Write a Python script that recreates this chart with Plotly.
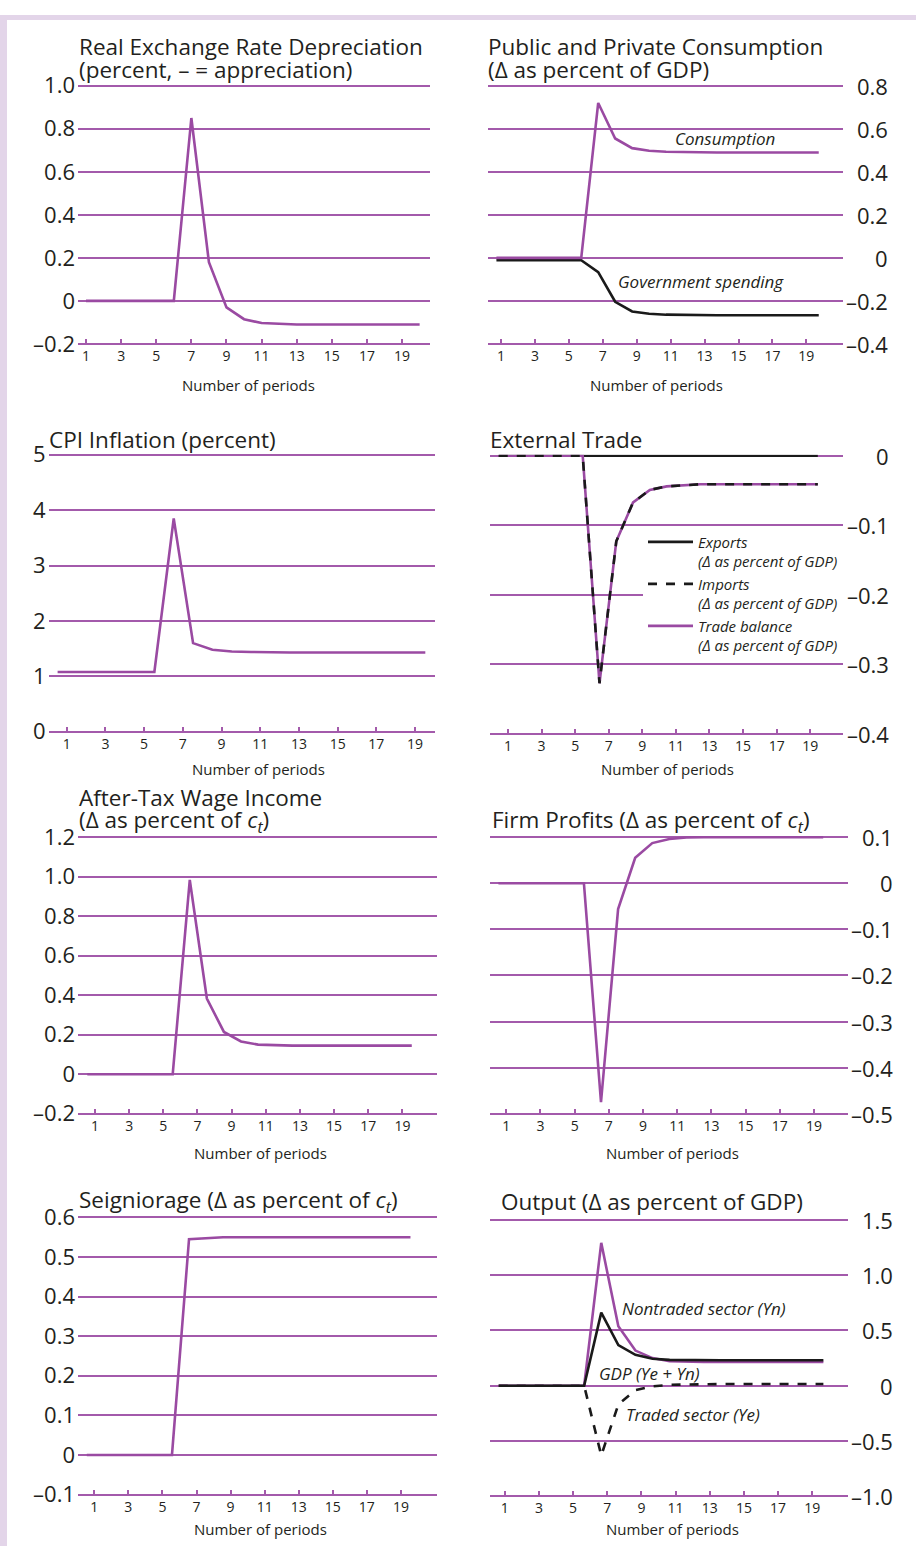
import plotly.graph_objects as go

W, H = 916, 1559

# ---------------- data ----------------
periods = list(range(1, 21))
x_ticks = list(range(1, 20, 2))
x_tick_text = [str(v) for v in x_ticks]

rer = [0, 0, 0, 0, 0, 0, 0.85, 0.18, -0.03, -0.085, -0.103, -0.108, -0.11, -0.11,
       -0.11, -0.11, -0.11, -0.11, -0.11, -0.11]

consumption = [0, 0, 0, 0, 0, 0, 0.72, 0.555, 0.51, 0.498, 0.493, 0.491, 0.49, 0.49,
               0.49, 0.49, 0.49, 0.49, 0.49, 0.49]
government = [-0.011, -0.011, -0.011, -0.011, -0.011, -0.011, -0.066, -0.204, -0.249,
              -0.26, -0.264, -0.266, -0.267, -0.267, -0.267, -0.267, -0.267, -0.267,
              -0.267, -0.267]

cpi = [1.08, 1.08, 1.08, 1.08, 1.08, 1.08, 3.85, 1.6, 1.48, 1.45, 1.44, 1.43, 1.43,
       1.43, 1.43, 1.43, 1.43, 1.43, 1.43, 1.43]

exports = [0] * 20
imports = [0, 0, 0, 0, 0, 0, -0.327, -0.123, -0.067, -0.049, -0.044, -0.042, -0.041,
           -0.041, -0.041, -0.041, -0.041, -0.041, -0.041, -0.041]
trade_balance = [0, 0, 0, 0, 0, 0, -0.327, -0.123, -0.067, -0.049, -0.044, -0.042,
                 -0.041, -0.041, -0.041, -0.041, -0.041, -0.041, -0.041, -0.041]

wage = [0, 0, 0, 0, 0, 0, 0.983, 0.383, 0.214, 0.166, 0.15, 0.146, 0.145, 0.145,
        0.145, 0.145, 0.145, 0.145, 0.145, 0.145]

profits = [0, 0, 0, 0, 0, 0, -0.475, -0.056, 0.055, 0.087, 0.096, 0.099, 0.1, 0.1,
           0.1, 0.1, 0.1, 0.1, 0.1, 0.1]

seigniorage = [0, 0, 0, 0, 0, 0, 0.545, 0.548, 0.55, 0.55, 0.55, 0.55, 0.55, 0.55,
               0.55, 0.55, 0.55, 0.55, 0.55, 0.55]

nontraded = [0, 0, 0, 0, 0, 0, 1.294, 0.538, 0.318, 0.25, 0.222, 0.216, 0.215, 0.215,
             0.215, 0.215, 0.215, 0.215, 0.215, 0.215]
gdp = [0, 0, 0, 0, 0, 0, 0.662, 0.368, 0.28, 0.244, 0.234, 0.231, 0.23, 0.23, 0.23,
       0.23, 0.23, 0.23, 0.23, 0.23]
traded = [0, 0, 0, 0, 0, 0, -0.632, -0.17, -0.04, -0.006, 0.008, 0.012, 0.014, 0.015,
          0.015, 0.015, 0.015, 0.015, 0.015, 0.015]

y1_ticks = [-0.2, 0, 0.2, 0.4, 0.6, 0.8, 1.0]
y1_text = ["\u20130.2", "0", "0.2", "0.4", "0.6", "0.8", "1.0"]
y2_ticks = [-0.4, -0.2, 0, 0.2, 0.4, 0.6, 0.8]
y2_text = ["\u20130.4", "\u20130.2", "0", "0.2", "0.4", "0.6", "0.8"]
y3_ticks = [0, 1, 2, 3, 4, 5]
y3_text = ["0", "1", "2", "3", "4", "5"]
y4_ticks = [-0.4, -0.3, -0.2, -0.1, 0]
y4_text = ["\u20130.4", "\u20130.3", "\u20130.2", "\u20130.1", "0"]
y5_ticks = [-0.2, 0, 0.2, 0.4, 0.6, 0.8, 1.0, 1.2]
y5_text = ["\u20130.2", "0", "0.2", "0.4", "0.6", "0.8", "1.0", "1.2"]
y6_ticks = [-0.5, -0.4, -0.3, -0.2, -0.1, 0, 0.1]
y6_text = ["\u20130.5", "\u20130.4", "\u20130.3", "\u20130.2", "\u20130.1", "0", "0.1"]
y7_ticks = [-0.1, 0, 0.1, 0.2, 0.3, 0.4, 0.5, 0.6]
y7_text = ["\u20130.1", "0", "0.1", "0.2", "0.3", "0.4", "0.5", "0.6"]
y8_ticks = [-1.0, -0.5, 0, 0.5, 1.0, 1.5]
y8_text = ["\u20131.0", "\u20130.5", "0", "0.5", "1.0", "1.5"]

# ---------------- styles ----------------
PURPLE = "#9a4aa2"
GRID = "#a35aab"
BLACK = "#1a1a1a"
INK = "#231f20"
FONT = "'Open Sans', Lato, sans-serif"
LAV = "#e3d5e9"
TITLE_SIZE = 22.5
TICK_SIZE = 22


def px(x):
    return x / W


def py(y):
    return 1 - y / H


ct = "<i>c<sub>t</sub></i>"


def leg_name(main):
    return "<i>" + main + "</i><br><i>(\u0394 as percent of GDP)</i>"


panels = [
    dict(box=(78, 71, 430, 336), xr=(0.544, 20.59), shift=0.0, yt=y1_ticks, yl=y1_text,
         side="left", titles=[("Real Exchange Rate Depreciation", 77, 32),
                              ("(percent, \u2013 = appreciation)", 77, 56)],
         xt_y=377, xt_x=248,
         series=[dict(v=rer, c=PURPLE, d="solid", n="rer")]),
    dict(box=(488, 71, 843, 336), xr=(0.233, 21.16), shift=-0.27, yt=y2_ticks, yl=y2_text,
         side="right", lab_x=890, titles=[("Public and Private Consumption", 486, 32),
                                          ("(\u0394 as percent of GDP)", 486, 56)],
         xt_y=377, xt_x=656,
         series=[dict(v=government, c=BLACK, d="solid", n="gov"),
                 dict(v=consumption, c=PURPLE, d="solid", n="cons")]),
    dict(box=(48.7, 446.7, 435, 731), xr=(0.07, 20.03), shift=-0.47, yt=y3_ticks, yl=y3_text,
         side="left", titles=[("CPI Inflation (percent)", 47, 432)],
         xt_y=768, xt_x=258,
         series=[dict(v=cpi, c=PURPLE, d="solid", n="cpi")]),
    dict(box=(490, 447.7, 843, 733.3), xr=(-0.07, 20.95), shift=-0.55, yt=y4_ticks, yl=y4_text,
         side="right", lab_x=891, titles=[("External Trade", 488, 432)],
         xt_y=768, xt_x=667,
         series=[dict(v=exports, c=BLACK, d="solid", leg=True, rank=1,
                      n=leg_name("Exports")),
                 dict(v=trade_balance, c=PURPLE, d="solid", leg=True, rank=3,
                      n=leg_name("Trade balance")),
                 dict(v=imports, c=BLACK, d="dash", leg=True, rank=2,
                      n=leg_name("Imports"))]),
    dict(box=(78, 836, 436.7, 1120), xr=(0.004, 21.01), shift=-0.45, yt=y5_ticks, yl=y5_text,
         side="left", titles=[("After-Tax Wage Income", 77, 797),
                              ("(\u0394 as percent of " + ct + ")", 77, 821)],
         xt_y=1159, xt_x=260,
         series=[dict(v=wage, c=PURPLE, d="solid", n="wage")]),
    dict(box=(490, 836, 848, 1120), xr=(0.046, 20.99), shift=-0.46, yt=y6_ticks, yl=y6_text,
         side="right", lab_x=895, titles=[("Firm Profits (\u0394 as percent of " + ct + ")", 490, 821)],
         xt_y=1159, xt_x=672,
         series=[dict(v=profits, c=PURPLE, d="solid", n="profits")]),
    dict(box=(78, 1223.3, 436.7, 1507.7), xr=(0.043, 21.1), shift=-0.44, yt=y7_ticks, yl=y7_text,
         side="left", titles=[("Seigniorage (\u0394 as percent of " + ct + ")", 77, 1208)],
         xt_y=1542, xt_x=260,
         series=[dict(v=seigniorage, c=PURPLE, d="solid", n="seign")]),
    dict(box=(490.3, 1226, 848, 1509.3), xr=(0.157, 21.09), shift=-0.35, yt=y8_ticks, yl=y8_text,
         side="right", lab_x=895, titles=[("Output (\u0394 as percent of GDP)", 499, 1208)],
         xt_y=1542, xt_x=672,
         series=[dict(v=traded, c=BLACK, d="dash", n="traded"),
                 dict(v=nontraded, c=PURPLE, d="solid", n="nontraded"),
                 dict(v=gdp, c=BLACK, d="solid", n="gdp")]),
]

fig = go.Figure()
annotations = []
layout_axes = {}

for i, p in enumerate(panels, start=1):
    x0, y0, x1, y1 = p["box"]
    xa = "x" if i == 1 else f"x{i}"
    ya = "y" if i == 1 else f"y{i}"
    xkey = "xaxis" if i == 1 else f"xaxis{i}"
    ykey = "yaxis" if i == 1 else f"yaxis{i}"
    ymin, ymax = min(p["yt"]), max(p["yt"])
    eps = (ymax - ymin) * 0.004
    layout_axes[xkey] = dict(
        domain=[px(x0), px(x1)], range=list(p["xr"]), anchor=ya,
        tickmode="array", tickvals=x_ticks, ticktext=x_tick_text,
        ticks="inside", ticklen=6, tickwidth=1.5, tickcolor=GRID,
        showline=False, showgrid=False, zeroline=False,
        tickfont=dict(family=FONT, size=14, color=INK),
        ticklabelstandoff=1,
        fixedrange=True,
    )
    layout_axes[ykey] = dict(
        domain=[py(y1), py(y0)], range=[ymin - eps, ymax + eps], anchor=xa,
        tickmode="array", tickvals=p["yt"], ticktext=p["yl"],
        showgrid=True, gridcolor=GRID, gridwidth=1.5, zeroline=False,
        showline=False, ticks="",
        showticklabels=(p["side"] == "left"),
        ticklabelstandoff=2,
        tickfont=dict(family=FONT, size=TICK_SIZE, color=INK),
        fixedrange=True,
    )
    if p["side"] == "right":
        for tv, tt in zip(p["yt"], p["yl"]):
            annotations.append(dict(
                x=px(p["lab_x"]), xref="paper", y=tv, yref=ya,
                text=tt, showarrow=False, xanchor="right", yanchor="middle",
                font=dict(family=FONT, size=TICK_SIZE, color=INK)))
    xs = [t + p["shift"] for t in periods]
    for s in p["series"]:
        fig.add_trace(go.Scatter(
            x=xs, y=s["v"], mode="lines", name=s["n"], xaxis=xa, yaxis=ya,
            line=dict(color=s["c"], width=2.6, dash=s["d"]),
            showlegend=s.get("leg", False), legendrank=s.get("rank", 1000),
            hoverinfo="skip"))
    for text, tx, ty in p["titles"]:
        annotations.append(dict(
            x=px(tx), y=py(ty), xref="paper", yref="paper", text=text,
            showarrow=False, xanchor="left", yanchor="middle",
            font=dict(family=FONT, size=TITLE_SIZE, color=INK)))
    annotations.append(dict(
        x=px(p["xt_x"]), y=py(p["xt_y"]), xref="paper", yref="paper",
        text="Number of periods", showarrow=False, xanchor="center", yanchor="middle",
        font=dict(family=FONT, size=15, color=INK)))

# in-panel series labels
labels = [
    ("<i>Consumption</i>", 725, 126),
    ("<i>Government spending</i>", 701, 271),
    ("<i>Nontraded sector (Yn)</i>", 704, 1317),
    ("<i>GDP (Ye + Yn)</i>", 649, 1383),
    ("<i>Traded sector (Ye)</i>", 693, 1425),
]
for text, tx, ty in labels:
    annotations.append(dict(
        x=px(tx), y=py(ty), xref="paper", yref="paper", text=text,
        showarrow=False, xanchor="center", yanchor="middle",
        font=dict(family=FONT, size=17, color=INK)))

shapes = [
    dict(type="rect", xref="paper", yref="paper", x0=0, x1=px(7), y0=0, y1=1,
         fillcolor=LAV, line=dict(width=0), layer="below"),
    dict(type="rect", xref="paper", yref="paper", x0=0, x1=1, y0=py(5), y1=1,
         fillcolor=LAV, line=dict(width=0), layer="below"),
]

fig.update_layout(
    width=W, height=H, margin=dict(l=0, r=0, t=0, b=0),
    paper_bgcolor="white", plot_bgcolor="rgba(0,0,0,0)",
    showlegend=True,
    legend=dict(x=px(643), y=py(520), xanchor="left", yanchor="top",
                bgcolor="white", borderwidth=0, valign="top",
                font=dict(family=FONT, size=15, color=INK),
                tracegroupgap=0, itemwidth=45, traceorder="normal"),
    annotations=annotations, shapes=shapes,
    **layout_axes,
)

fig.write_html(
    "out.html",
    config={"responsive": False, "displayModeBar": False},
    post_script=(
        "var d=document.getElementsByClassName('plotly-graph-div')[0];"
        "d.style.position='fixed';d.style.left='0px';d.style.top='0px';"
        "document.documentElement.style.margin='0';"
        "document.body.style.margin='0';document.body.style.padding='0';"
        "document.documentElement.style.height='100%';document.body.style.height='100%';"
        "document.documentElement.style.overflow='hidden';document.body.style.overflow='hidden';"
    ),
)
